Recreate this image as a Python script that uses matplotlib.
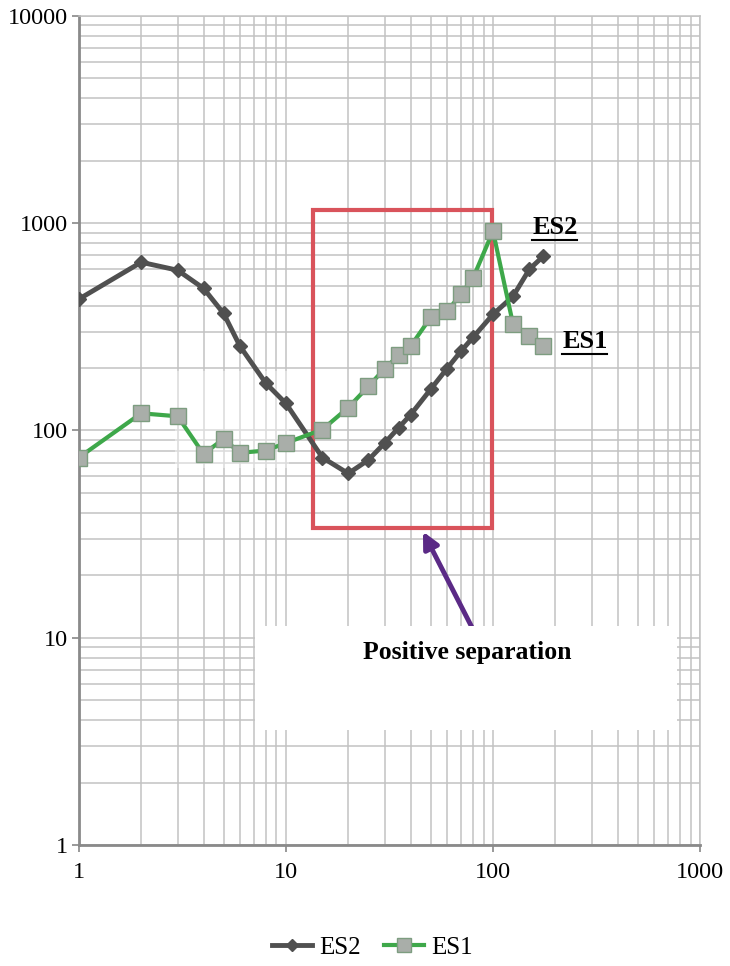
import matplotlib
matplotlib.use('Agg')
import matplotlib.pyplot as plt
from matplotlib.patches import Rectangle

plt.rcParams['font.family'] = ['Liberation Serif', 'DejaVu Serif']

# data
x_es2 = [1, 2, 3, 4, 5, 6, 8, 10, 15, 20, 25, 30, 35, 40, 50, 60, 70, 80, 100, 125, 150, 175]
es2 = [430, 648, 593, 485, 367, 255, 169, 135, 74, 62, 72, 87, 103, 119, 158, 199, 241, 281, 363, 444, 600, 693]
x_es1 = [1, 2, 3, 4, 5, 6, 8, 10, 15, 20, 25, 30, 35, 40, 50, 60, 70, 80, 100, 125, 150, 175]
es1 = [74, 121, 117, 77, 91, 78, 80, 87, 101, 129, 163, 199, 230, 255, 351, 376, 454, 542, 915, 325, 285, 255]

xticks = [1, 10, 100, 1000]
yticks = [1, 10, 100, 1000, 10000]

fig = plt.figure(figsize=(7.3, 9.66), dpi=100)
ax = fig.add_axes([0.108, 0.1253, 0.851, 0.8582])
ax.set_xscale('log')
ax.set_yscale('log')
ax.set_xlim(1, 1000)
ax.set_ylim(1, 10000)
ax.set_axisbelow(True)
ax.grid(which='both', color='#c2c2c2', lw=1.1)

ax.set_xticks(xticks)
ax.set_xticklabels([str(t) for t in xticks])
ax.set_yticks(yticks)
ax.set_yticklabels([str(t) for t in yticks])
ax.tick_params(which='major', length=5, width=1.2, color='#888888', labelsize=17.5)
ax.tick_params(axis='x', which='major', pad=7)
ax.tick_params(axis='y', which='major', pad=3)
ax.tick_params(which='minor', length=0)
for s in ['left', 'bottom']:
    ax.spines[s].set_color('#8a8a8a')
    ax.spines[s].set_linewidth(2)
for s in ['top', 'right']:
    ax.spines[s].set_color('#c2c2c2')
    ax.spines[s].set_linewidth(1.1)

# faint washed-out patch in the original scan
ax.add_patch(Rectangle((2.91, 66), 10.4 - 2.91, 193 - 66, fc='white', ec='none', alpha=0.4, zorder=1))

# red box (under the lines)
ax.add_patch(Rectangle((13.5, 34), 99 - 13.5, 1156 - 34, fill=False,
                       ec='#d9535b', lw=3, zorder=2.5))

ax.plot(x_es2, es2, color='#505050', lw=3.5, marker='D', ms=7,
        mfc='#505050', mec='#505050', label='ES2', zorder=3)
ax.plot(x_es1, es1, color='#3ea84a', lw=3, marker='s', ms=11.5,
        mfc='#a9aea9', mec='#7d9d80', mew=1, label='ES1', zorder=4)

# arrow and text box
ax.annotate('', xy=(45.9, 32.5), xytext=(79.2, 11.2),
            arrowprops=dict(arrowstyle='-|>', mutation_scale=24, lw=3.5,
                            color='#5b2a86', shrinkA=0, shrinkB=0), zorder=6)
ax.add_patch(Rectangle((7.08, 3.59), 774 - 7.08, 11.4 - 3.59, fc='white', ec='none', zorder=7))
ax.text(74.9, 8.47, 'Positive separation', ha='center', va='center',
        fontsize=18.5, fontweight='bold', zorder=8)

# series labels with underline
ax.text(199, 957, 'ES2', ha='center', va='center', fontsize=19, fontweight='bold', zorder=8)
ax.plot([154, 255], [828, 828], color='black', lw=1.5, zorder=8)
ax.text(278, 269, 'ES1', ha='center', va='center', fontsize=19, fontweight='bold', zorder=8)
ax.plot([215, 356], [233, 233], color='black', lw=1.5, zorder=8)

h, l = ax.get_legend_handles_labels()
fig.legend(h, l, loc='center', bbox_to_anchor=(0.51, 0.019), ncol=2,
           frameon=False, fontsize=18, handlelength=1.6, columnspacing=0.9,
           handletextpad=0.3, markerscale=0.9)

fig.savefig('out.png', dpi=100)
